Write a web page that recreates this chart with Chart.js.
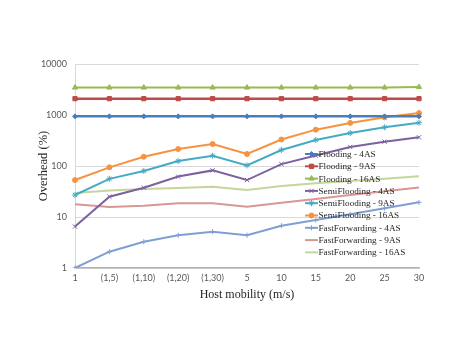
<!DOCTYPE html>
<html>
<head>
<meta charset="utf-8">
<script src="https://cdn.jsdelivr.net/npm/chart.js@4.4.0/dist/chart.umd.min.js"></script>
<style>
  html, body { margin: 0; padding: 0; background: #fff; }
  #wrap { width: 457px; height: 353px; }
</style>
</head>
<body>
<div id="wrap"><canvas id="chart" width="457" height="353"></canvas></div>
<script>
// host mobility categories
const labels = ["1", "(1,5)", "(1,10)", "(1,20)", "(1,30)", "5", "10", "15", "20", "25", "30"];
const yTicks = [1, 10, 100, 1000, 10000];

// overhead (%)
const flooding4 = [940, 940, 940, 940, 940, 940, 940, 940, 940, 940, 940];
const flooding9 = [2090, 2090, 2090, 2090, 2090, 2090, 2090, 2090, 2090, 2090, 2090];
const flooding16 = [3450, 3450, 3450, 3450, 3450, 3450, 3450, 3450, 3450, 3450, 3550];
const semi4 = [6.5, 25, 37.6, 62, 82, 53, 109, 160, 236, 300, 365];
const semi9 = [27, 56, 80, 125, 159, 103, 206, 323, 444, 574, 705];
const semi16 = [53, 94, 152, 215, 270, 172, 330, 516, 700, 900, 1090];
const fast4 = [1, 2.09, 3.28, 4.4, 5.15, 4.4, 6.75, 8.7, 11.3, 14.8, 19.4];
const fast9 = [17.7, 15.7, 16.6, 18.5, 18.5, 15.9, 19.1, 22.5, 27, 32, 38];
const fast16 = [29.5, 33, 35.5, 37, 39, 34, 40.5, 46, 51, 56, 63];

function series(label, data, color, style, radius, width) {
  return {
    label: label,
    data: data,
    borderColor: color,
    backgroundColor: color,
    borderWidth: width || 2,
    pointStyle: style || false,
    pointRadius: style ? radius : 0,
    pointBorderWidth: 1,
    pointBorderColor: color,
    pointBackgroundColor: color,
    tension: 0
  };
}

const datasets = [
  series("Flooding - 4AS", flooding4, "#4a7ebb", "rectRot", 2.5, 2.5),
  series("Flooding - 9AS", flooding9, "#be4b48", "rect", 3, 2.5),
  series("Flooding - 16AS", flooding16, "#98b954", "triangle", 3, 2),
  series("SemiFlooding - 4AS", semi4, "#7d60a0", "crossRot", 3, 2),
  series("SemiFlooding - 9AS", semi9, "#46aac5", "star", 3, 2),
  series("SemiFlooding - 16AS", semi16, "#f69240", "circle", 2.5, 2),
  series("FastForwarding - 4AS", fast4, "#7f9fd4", "cross", 2.5, 2),
  series("FastForwarding - 9AS", fast9, "#d99694", null, 0, 2),
  series("FastForwarding - 16AS", fast16, "#c3d69b", null, 0, 2)
];

// Excel-style legend sitting inside the plot
const insideLegend = {
  id: "insideLegend",
  afterDraw(chart) {
    const ctx = chart.ctx;
    ctx.save();
    ctx.font = "9.2px 'Liberation Serif'";
    ctx.textBaseline = "middle";
    ctx.textAlign = "left";
    chart.data.datasets.forEach((ds, i) => {
      const y = 154 + i * 12.3;
      ctx.strokeStyle = ds.borderColor;
      ctx.lineWidth = 2;
      ctx.beginPath();
      ctx.moveTo(305, y);
      ctx.lineTo(318, y);
      ctx.stroke();
      if (ds.pointStyle && Chart.helpers && Chart.helpers.drawPoint) {
        ctx.fillStyle = ds.borderColor;
        ctx.lineWidth = 1;
        Chart.helpers.drawPoint(ctx, { pointStyle: ds.pointStyle, radius: ds.pointRadius, rotation: 0, borderWidth: 1 }, 311.5, y);
        ctx.fill();
      }
      ctx.fillStyle = "#262626";
      ctx.fillText(ds.label, 318.5, y + 0.5);
    });
    ctx.restore();
  }
};

new Chart(document.getElementById("chart"), {
  type: "line",
  data: { labels: labels, datasets: datasets },
  plugins: [insideLegend],
  options: {
    responsive: false,
    animation: false,
    layout: { padding: { left: 36, top: 64, right: 38, bottom: 51 } },
    plugins: { legend: { display: false }, tooltip: { enabled: false } },
    scales: {
      x: {
        type: "category",
        offset: false,
        grid: { display: false, drawTicks: false },
        border: { display: true, color: "#b3b3b3", width: 1.5 },
        ticks: {
          padding: 5,
          autoSkip: false,
          maxRotation: 0,
          color: "#595959",
          font: { family: "Lato", size: 9 }
        },
        title: {
          display: true,
          text: "Host mobility (m/s)",
          color: "#262626",
          padding: 0,
          font: { family: "Liberation Serif", size: 12 }
        },
        afterFit(scale) { scale.height = 34; }
      },
      y: {
        type: "logarithmic",
        min: 1,
        max: 10000,
        afterBuildTicks(scale) { scale.ticks = yTicks.map(v => ({ value: v })); },
        grid: { color: "#d9d9d9", drawTicks: false },
        border: { display: true, color: "#d9d9d9", width: 1 },
        ticks: {
          padding: 8,
          color: "#595959",
          font: { family: "Lato", size: 9 },
          callback: v => String(v)
        },
        title: {
          display: true,
          text: "Overhead (%)",
          color: "#262626",
          padding: 0,
          font: { family: "Liberation Serif", size: 12.5 }
        },
        afterFit(scale) { scale.width = 39; }
      }
    }
  }
});
</script>
</body>
</html>
